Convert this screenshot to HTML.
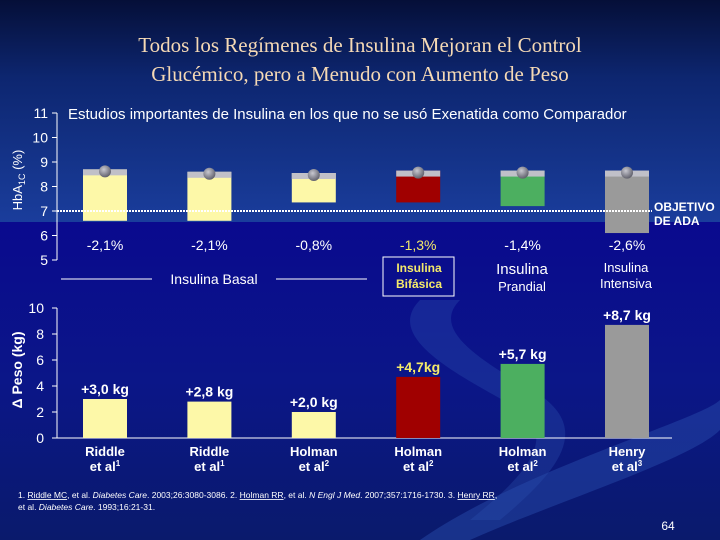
<!DOCTYPE html>
<html><head><meta charset="utf-8"><style>
body{margin:0;width:720px;height:540px;overflow:hidden;font-family:"Liberation Sans",sans-serif}
svg{display:block}
</style></head><body>
<svg id="s" width="720" height="540" viewBox="0 0 720 540">
<defs>
<linearGradient id="bgTop" x1="0" y1="0" x2="0" y2="1">
<stop offset="0" stop-color="#050f38"/><stop offset="0.35" stop-color="#0d2670"/><stop offset="1" stop-color="#1a3d9c"/>
</linearGradient>
<linearGradient id="bgBot" x1="0" y1="0" x2="0" y2="1">
<stop offset="0" stop-color="#0a0a8e"/><stop offset="0.5" stop-color="#0b1688"/><stop offset="1" stop-color="#0a1a6c"/>
</linearGradient>
<radialGradient id="dot" cx="0.4" cy="0.35" r="0.7"><stop offset="0" stop-color="#c8c8d0"/><stop offset="1" stop-color="#5a5a66"/></radialGradient>
</defs>
<rect x="0" y="0" width="720" height="222" fill="url(#bgTop)"/>
<rect x="0" y="222" width="720" height="318" fill="url(#bgBot)"/>
<path d="M420,540 C520,470 700,420 720,400 L720,430 C690,460 560,500 470,540 Z" fill="#2a4fb0" opacity="0.45"/>
<path d="M420,300 C380,340 470,380 520,410 C560,440 520,480 470,520 L500,520 C560,470 590,430 540,395 C480,360 430,330 460,300 Z" fill="#2a4fb0" opacity="0.35"/>
<text x="360" y="52" text-anchor="middle" font-family="Liberation Serif, serif" font-size="21" fill="#f5d9b5">Todos los Regímenes de Insulina Mejoran el Control</text>
<text x="360" y="81" text-anchor="middle" font-family="Liberation Serif, serif" font-size="21" fill="#f5d9b5">Glucémico, pero a Menudo con Aumento de Peso</text>
<text x="68" y="119" font-size="15" fill="#fff">Estudios importantes de Insulina en los que no se usó Exenatida como Comparador</text>
<g id="topChart"></g>
<g id="botChart"></g>
<text x="22" y="180" transform="rotate(-90 22 180)" text-anchor="middle" font-size="13" fill="#fff">HbA<tspan font-size="9" dy="3">1C</tspan><tspan dy="-3"> (%)</tspan></text>
<text x="22" y="370" transform="rotate(-90 22 370)" text-anchor="middle" font-size="14" font-weight="bold" fill="#fff">Δ Peso (kg)</text>
<text x="654" y="211" font-size="12" font-weight="bold" fill="#fff">OBJETIVO</text>
<text x="654" y="225" font-size="12" font-weight="bold" fill="#fff">DE ADA</text>
<line x1="61" y1="279" x2="152" y2="279" stroke="#fff" stroke-width="1"/>
<line x1="276" y1="279" x2="367" y2="279" stroke="#fff" stroke-width="1"/>
<text x="214" y="284" text-anchor="middle" font-size="14" fill="#fff">Insulina Basal</text>
<rect x="383" y="257" width="71" height="39" fill="none" stroke="#fff" stroke-width="1"/>
<text x="419" y="272" text-anchor="middle" font-size="12" font-weight="bold" fill="#f5ea6a">Insulina</text>
<text x="419" y="288" text-anchor="middle" font-size="12" font-weight="bold" fill="#f5ea6a">Bifásica</text>
<text x="522" y="274" text-anchor="middle" font-size="15" fill="#fff">Insulina</text>
<text x="522" y="291" text-anchor="middle" font-size="13" fill="#fff">Prandial</text>
<text x="626" y="272" text-anchor="middle" font-size="13" fill="#fff">Insulina</text>
<text x="626" y="288" text-anchor="middle" font-size="13" fill="#fff">Intensiva</text>
<text x="18" y="498" font-size="8.5" fill="#fff">1. <tspan text-decoration="underline">Riddle MC</tspan>, et al. <tspan font-style="italic">Diabetes Care</tspan>. 2003;26:3080-3086. 2. <tspan text-decoration="underline">Holman RR</tspan>, et al. <tspan font-style="italic">N Engl J Med</tspan>. 2007;357:1716-1730. 3. <tspan text-decoration="underline">Henry RR</tspan>,</text>
<text x="18" y="510" font-size="8.5" fill="#fff">et al. <tspan font-style="italic">Diabetes Care</tspan>. 1993;16:21-31.</text>
<text x="668" y="530" text-anchor="middle" font-size="12" fill="#fff">64</text>
</svg>
<script>
const studies=["Riddle","Riddle","Holman","Holman","Holman","Henry"];
const refs=["1","1","2","2","2","3"];
const hbStart=[8.7,8.6,8.55,8.65,8.65,8.65];
const hbEnd=[6.6,6.6,7.35,7.35,7.2,6.1];
const hbLabels=["-2,1%","-2,1%","-0,8%","-1,3%","-1,4%","-2,6%"];
const weight=[3.0,2.8,2.0,4.7,5.7,8.7];
const wLabels=["+3,0 kg","+2,8 kg","+2,0 kg","+4,7kg","+5,7 kg","+8,7 kg"];
const colors=["#fdf8a8","#fdf8a8","#fdf8a8","#a00000","#4caf60","#9a9a9a"];
const hbTicks=[5,6,7,8,9,10,11];
const wTicks=[0,2,4,6,8,10];
const NS="http://www.w3.org/2000/svg";
function mk(p,t,a){const e=document.createElementNS(NS,t);for(const k in a)e.setAttribute(k,a[k]);p.appendChild(e);return e;}
const xL=i=>83+i*104.4, bw=44;
const yH=v=>260-(v-5)*24.5;
const yW=v=>438-v*13;
const gTop=document.getElementById('topChart'), gBot=document.getElementById('botChart');
let ax=mk(gTop,'line',{x1:57,y1:yH(11),x2:57,y2:yH(5),stroke:'#fff','stroke-width':1});


hbTicks.forEach(t=>{
 const l=mk(gTop,'line',{x1:52,y1:yH(t),x2:57,y2:yH(t),stroke:'#fff'});
 
 
 const tx=mk(gTop,'text',{x:48,y:yH(t)+5,'text-anchor':'end','font-size':14,fill:'#fff'});tx.textContent=t;
 
 
});
studies.forEach((s,i)=>{
 const x=xL(i);
 const b=mk(gTop,'rect',{x:x,y:yH(hbStart[i]),width:bw,height:yH(hbEnd[i])-yH(hbStart[i]),fill:colors[i]});
 
 
 const c=mk(gTop,'rect',{x:x,y:yH(hbStart[i]),width:bw,height:6,fill:'#c0c0c8'});
 
 
 const d=mk(gTop,'circle',{cx:x+bw/2,cy:yH(hbStart[i])+2,r:6,fill:'url(#dot)'});
 
 
 const t=mk(gTop,'text',{x:x+bw/2,y:250,'text-anchor':'middle','font-size':14,fill:i==3?'#f5ea6a':'#fff'});t.textContent=hbLabels[i];
 
 
});
const goal=mk(gTop,'line',{x1:57,y1:yH(7),x2:652,y2:yH(7),stroke:'#fff','stroke-width':2,'stroke-dasharray':'2 1'});


let ax2=mk(gBot,'line',{x1:57,y1:yW(10),x2:57,y2:yW(0),stroke:'#fff'});


let bl=mk(gBot,'line',{x1:57,y1:yW(0),x2:672,y2:yW(0),stroke:'#fff'});


wTicks.forEach(t=>{
 const l=mk(gBot,'line',{x1:52,y1:yW(t),x2:57,y2:yW(t),stroke:'#fff'});
 
 
 const tx=mk(gBot,'text',{x:44,y:yW(t)+5,'text-anchor':'end','font-size':14,fill:'#fff'});tx.textContent=t;
 
 
});
studies.forEach((s,i)=>{
 const x=xL(i);
 const b=mk(gBot,'rect',{x:x,y:yW(weight[i]),width:bw,height:yW(0)-yW(weight[i]),fill:colors[i]});
 
 
 const t=mk(gBot,'text',{x:x+bw/2,y:yW(weight[i])-5,'text-anchor':'middle','font-size':14,'font-weight':'bold',fill:i==3?'#f5ea6a':'#fff'});
 t.textContent=wLabels[i];
 
 
 const n=mk(gBot,'text',{x:x+bw/2,y:456,'text-anchor':'middle','font-size':13,'font-weight':'bold',fill:'#fff'});n.textContent=s;
 
 
 const e=mk(gBot,'text',{x:x+bw/2,y:471,'text-anchor':'middle','font-size':13,'font-weight':'bold',fill:'#fff'});
 e.textContent='et al';
 const sp=mk(e,'tspan',{'font-size':8,dy:-5});sp.textContent=refs[i];
 
 
});
</script>
</body></html>
